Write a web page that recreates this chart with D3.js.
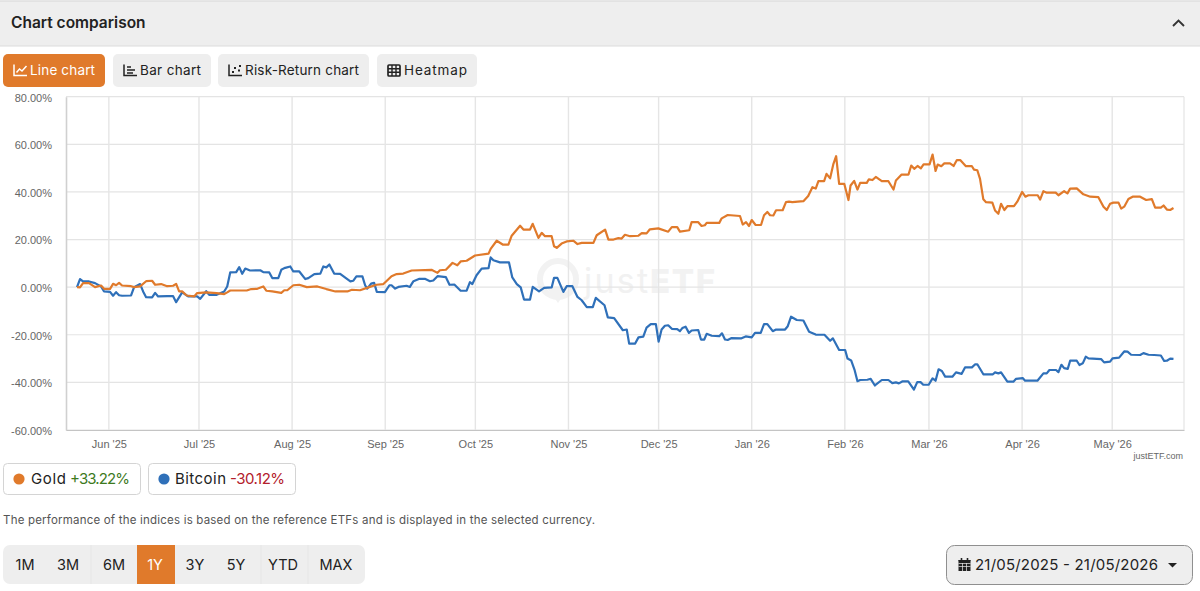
<!DOCTYPE html>
<html>
<head>
<meta charset="utf-8">
<script src="https://cdn.jsdelivr.net/npm/d3@7"></script>
<style>
html,body{margin:0;padding:0;background:#fff;overflow:hidden}
svg{display:block}
.ui{font-family:Inter,"Noto Sans",sans-serif}
.axis text{font-family:"Liberation Sans",Arial,sans-serif;font-size:11px;fill:#666}
</style>
</head>
<body>
<svg id="c" width="1200" height="591"></svg>
<script>
const startDate = Date.UTC(2025,4,21,9,36);
const monthTicks = ["2025-06-01","2025-07-01","2025-08-01","2025-09-01","2025-10-01","2025-11-01","2025-12-01","2026-01-01","2026-02-01","2026-03-01","2026-04-01","2026-05-01"];
const valueTicks = [-60,-40,-20,0,20,40,60,80];

const goldDays = [0,1,2,4,6,8,9,11,12,13,14,15,18,19,21,23,25,26,28,30,32,33,34,35,36.5,39,40,43,46.5,49,50,51,56.5,58,60,62,63,65,68,69,70,72,74,76.5,80,83,86,90,91.5,94.2,97,99.7,102,104.7,106.4,108.6,111.4,118,120,120.8,122.8,125,126.6,127.7,129.7,132.5,137,137.7,139.7,141.7,143.6,144.7,147.5,148.6,150.8,151.7,153.6,154.7,155.8,158,158.8,159.7,161.3,163,165.2,166.6,168,171.9,173,175.8,176.9,178.6,180.2,181.3,182.4,184.1,186.9,188,189.6,190.7,193.5,196.8,198,199.8,200.7,203.8,204.6,206.8,207.9,209,209.6,213.8,214.6,216.6,220.7,221.6,222.7,223.7,224.6,225.9,227.7,228.7,229.8,230.7,231.8,232.7,234.9,236,237,238.1,241.8,243.4,244.8,245.9,246.8,248.7,249.5,250.7,251.8,252.7,253.7,255.4,256.8,257.5,258.7,259.8,260.7,262.9,263.6,264.8,265.9,267.9,270.1,271.8,272.6,274.5,276.8,277.7,278.7,279.8,280.9,281.8,283.8,284.8,285.8,286.5,287.7,288.7,290.6,291.8,292.9,294,295.9,297.9,298.6,299.7,300.6,301.7,302.6,304.7,305.6,306.7,307.6,308.7,309.7,311.9,313,314.6,315.7,316.7,319.8,320.6,321.7,322.8,325.8,326.7,328.6,329.7,330.6,332.8,335,337.3,340,341.7,342.8,343.9,345,346.7,347.6,348.6,350,351.4,353.9,355.9,357.8,358.9,360.8,361.7,362.8,363.9,365];
const goldValues = [0,-0.1,1.7,1.7,0,0.7,-0.7,-0.7,1.4,0.8,1.8,0.7,0.4,0,0.3,2.5,2.7,1,1.3,0.4,0.6,1.4,-1.8,-1.8,-3.5,-3.9,-2.5,-2.2,-2.5,-2.9,-2.2,-1.4,-1.4,-0.8,-0.7,0.3,-1.5,-1.8,-2.4,-1.3,-1.3,0.8,1,0,0.3,-0.8,-1.8,-1.8,-1.1,-1.3,-0.1,1,1.3,4.6,5.5,5.7,7,7.3,6,7.1,7.3,10.2,9.2,10.8,11.1,13.3,14.1,16.1,19.5,17.9,17.9,21.6,25.8,24.2,24.2,26.6,20.7,22.8,21.4,21.4,17.2,16.5,18.3,19.2,19.5,18.1,18.6,18.6,21.8,24.2,20,20,20.6,20.4,22,21.4,21.6,22.7,22.6,24.3,24.7,23.3,25.2,25.2,23.3,23.9,27.3,27.3,25.7,26,27,27,28.9,30.3,29.9,26.3,27.3,25.7,28.2,26.1,26.1,30.2,31.6,30.2,30.1,32.3,32.3,35.7,35.9,35.7,36.1,38.3,42,41.4,44.5,44.5,47.6,45.7,51.8,55,43.4,43.4,36.6,42.7,44.6,41,43.8,43.8,45.3,45,46.3,44.5,44.5,41,44.8,47.3,47.3,51.1,49.7,50.9,49.9,51.6,51.6,55.7,48.8,51.5,50.8,52,52,50.9,53.4,53.4,50.8,50.8,49.4,49.1,45.5,36.9,35.7,35.5,32.2,30.8,35,32.4,34,34,35.9,40,38,38.6,38.6,36.8,40.3,39.7,39.7,38.6,40.3,39.4,41.4,41.5,39,38,37.8,33.8,32.4,35,35.5,35.5,33,33.8,37,38,38,36.6,37,33.4,33.4,34.3,32.6,32.4,33.22];

const bitcoinDays = [0,1,2,4,6,8,9,11,12,13,14,15,18,19,21,22,23,25,26,27,30,32,33,35,37,40,41,43,44,46.5,49,50,51,53,54,55,56,57.6,61,62,64,65,67,68,69,71,72,74,76,77,79,81,82,83,84,85.6,87.6,91,92,93,95,95.9,96.6,97.9,98.9,99.8,102.5,104,104.7,105.9,107,109.7,110.8,112,114,115.8,117.5,118.6,120,122.8,124,125.6,127.7,129.7,130.8,131.6,133,134.7,137,137.7,138.6,140.8,143.8,144.9,146.4,147.7,148.8,150.8,151.7,153.8,155.5,158,158.8,159.9,161.9,163,164.9,166.6,168,169.7,171.7,172.7,175.6,176.7,178.8,181.7,183,183.8,185.8,186.9,188.5,189.6,191,192.7,193.6,194.6,195.7,196.8,198,199.8,200.7,201.5,202.6,203.7,204.6,206.8,207.7,208.8,209.6,211.3,213.8,214.7,215.7,216.6,217.9,221.2,222.6,224.6,225.7,227.6,228.7,229.8,231.6,232.7,235.7,236.6,237.7,239.6,241.8,243.7,245.9,248.8,250.7,251.6,253.7,255.7,256.5,257.7,258.8,259.8,260.7,263.1,264.2,265.6,267.9,270.1,271.4,272.6,273.6,274.7,276.7,278.6,279.7,280.8,281.7,283.5,284.8,285.8,286.8,287.9,289,291.4,292.6,294.5,295.6,297.9,299,299.7,301.7,304.9,305.6,306.7,307.6,309.7,311.7,312.6,314.8,315.6,319.7,321.7,322.8,323.7,325.9,326.7,327.7,328.6,329.8,330.6,332.8,333.7,334.8,335.8,336.7,340.9,341.9,343.9,344.7,346.9,348.6,349.7,350.9,353.9,355,356.7,358.6,360.8,361.9,362.8,363.9,365];
const bitcoinValues = [0,3.4,2.4,2.4,1.7,0.3,-1.8,-2,-3.6,-2.1,-3.4,-3.6,-3.5,0,1.3,-1.8,-4.2,-4.3,-2.4,-3.9,-3.8,-3.8,-6.3,-2.2,-3.9,-3.9,-4.9,-1.7,-3.2,-3.2,-1.8,0.3,6.2,6.3,8.4,5.6,7.8,7,7.1,6.3,6.2,3.8,3.8,7.3,8,8.7,6.6,6.6,3.4,3.8,5.5,5.7,8.7,8.3,9.5,5.7,5.6,2.4,2.7,4.5,4.5,0.8,-0.6,1.5,1.8,-2,-2.1,0.8,0.8,-0.6,0.1,0.6,0.1,2.5,3.5,3.5,2.5,2.8,4.6,4.2,1,1.1,-1.5,-1.5,2.1,1.3,5,7.8,8,12.5,11.3,10.4,10.4,4.1,1.3,-0.1,-5.2,-5.2,0.1,-1.8,-0.3,-0.1,3.9,3.9,-2,0.4,0.4,-4.1,-5.5,-8.4,-8.4,-4.5,-7.6,-12.7,-13,-18.1,-17.8,-23.7,-23.7,-21.1,-20.8,-17,-15.5,-15.5,-22.9,-17.8,-16.2,-16,-17.5,-17.6,-18.5,-17.2,-16.6,-19.2,-18.2,-18,-22,-22,-19.6,-20.4,-20.6,-19.4,-22,-22.2,-21.4,-21.5,-20.7,-21.1,-19.2,-19.2,-15.5,-15.5,-18.5,-17.8,-17.8,-16.4,-12.4,-13.8,-14,-18.7,-19.9,-20,-22.5,-21.5,-26.4,-26.4,-30,-30.8,-34.6,-39.5,-39,-38.9,-38.5,-41.3,-39,-39,-40.3,-40,-40.4,-39.6,-39.6,-43,-39.9,-39.9,-41,-41,-38.3,-39.3,-34.5,-35.2,-37.6,-37.6,-35.8,-36.4,-33.7,-33.7,-32.4,-32.4,-36.6,-36.6,-35.8,-36.2,-35.8,-39.7,-39.7,-38.5,-38.2,-39.3,-39.3,-36.2,-36.2,-34.8,-34.8,-35.7,-32.6,-34,-34.3,-30.9,-30.9,-32.7,-32,-29.2,-29.9,-30.2,-31.6,-31.3,-29.9,-29.6,-27,-27.1,-28.4,-28.5,-27.7,-28.4,-28.5,-28.7,-31,-30.9,-30,-30.12];

const navItems = ["Line chart","Bar chart","Risk-Return chart","Heatmap"];
const rangeItems = ["1M","3M","6M","1Y","3Y","5Y","YTD","MAX"];

const ORANGE="#e07a2b", BLUE="#2f70b9";
const svg=d3.select("#c");
const ui=svg.append("g").attr("class","ui");

// page header
svg.insert("rect",":first-child").attr("width",1200).attr("height",591).attr("fill","#fff");
ui.append("rect").attr("x",0).attr("y",1).attr("width",1200).attr("height",45).attr("fill","#eeeeee");
ui.append("line").attr("x1",0).attr("x2",1200).attr("y1",46).attr("y2",46).attr("stroke","#dcdcdc").attr("stroke-width",1.2);
ui.append("line").attr("x1",0).attr("x2",1200).attr("y1",1).attr("y2",1).attr("stroke","#dedede").attr("stroke-width",1.4);
ui.append("text").attr("x",11).attr("y",28).attr("font-size",15.5).attr("font-weight",600).attr("fill","#222").text("Chart comparison");
ui.append("path").attr("d","M1173 26 l5.5 -5.5 l5.5 5.5").attr("fill","none").attr("stroke","#333").attr("stroke-width",1.9);

// tab buttons
const navBoxes=[[3,102],[113,98],[218,151],[377,100]];
const navText=[30,140,245,404];
const navLen=[65,61,114,63];
navItems.forEach((t,i)=>{
  const on=i===0,[x,w]=navBoxes[i];
  ui.append("rect").attr("x",x).attr("y",54).attr("width",w).attr("height",33).attr("rx",5)
    .attr("fill",on?ORANGE:"#eeeeee");
  ui.append("text").attr("x",navText[i]).attr("y",75).attr("font-size",13.5).attr("font-weight",400)
    .attr("textLength",navLen[i]).attr("fill",on?"#fff":"#222").text(t);
});
function axisIcon(x,col){
  ui.append("path").attr("d",`M${x} 64.5 v11 h13`).attr("fill","none").attr("stroke",col).attr("stroke-width",1.5);
}
axisIcon(14,"#fff");
ui.append("path").attr("d","M16.5 72.5 l3 -3.5 l2.5 2 l4.5 -5").attr("fill","none").attr("stroke","#fff").attr("stroke-width",1.5);
axisIcon(124,"#222");
ui.append("path").attr("d","M127 67h4M127 70h8M127 73h6").attr("fill","none").attr("stroke","#222").attr("stroke-width",1.6);
axisIcon(229,"#222");
ui.append("path").attr("d","M232 72h2M234 68h2M238 70.5h2M239 66h2").attr("fill","none").attr("stroke","#222").attr("stroke-width",2);
ui.append("rect").attr("x",388).attr("y",65).attr("width",12).attr("height",11).attr("rx",1).attr("fill","none").attr("stroke","#222").attr("stroke-width",1.7);
ui.append("path").attr("d","M388 68.7h12M388 72.3h12M392 65v11M396 65v11").attr("fill","none").attr("stroke","#222").attr("stroke-width",1.4);

// chart
const x=d3.scaleUtc().domain([new Date(Date.UTC(2025,4,17,17,36)),new Date(Date.UTC(2026,4,24,21,36))]).range([66,1184]);
const y=d3.scaleLinear().domain([-60,80]).range([430,96.7]);
const g=svg.append("g");
const tickDates=monthTicks.map(s=>new Date(s+"T00:00:00Z"));

// watermark
const wm=g.append("g").attr("opacity",0.9);
wm.append("circle").attr("cx",558).attr("cy",279).attr("r",18).attr("fill","none").attr("stroke","#f1f1f1").attr("stroke-width",6);
wm.append("path").attr("d","M547 288 L558 303 L568 288 Z").attr("fill","#f1f1f1");
wm.append("text").attr("x",584).attr("y",293).attr("font-family","Inter,sans-serif").attr("font-size",34).attr("font-weight",400).attr("textLength",64).attr("fill","#f0f0f0").text("just");
wm.append("text").attr("x",650).attr("y",293).attr("font-family","Inter,sans-serif").attr("font-size",33).attr("font-weight",800).attr("textLength",65).attr("fill","#f1f1f1").text("ETF");

// grid
g.append("g").selectAll("line").data(valueTicks).join("line")
  .attr("x1",66).attr("x2",1184).attr("y1",d=>y(d)).attr("y2",d=>y(d)).attr("stroke","#e4e4e4").attr("stroke-width",1.2);
g.append("g").selectAll("line").data(tickDates).join("line")
  .attr("x1",d=>x(d)).attr("x2",d=>x(d)).attr("y1",96.7).attr("y2",430).attr("stroke","#e5e5e5").attr("stroke-width",1.4);
g.append("line").attr("x1",1184).attr("x2",1184).attr("y1",96.7).attr("y2",430).attr("stroke","#e5e5e5").attr("stroke-width",1.2);

const yAxis=g.append("g").attr("class","axis").attr("transform","translate(66,0)")
  .call(d3.axisLeft(y).tickValues(valueTicks).tickSize(0).tickPadding(14).tickFormat(d=>d.toFixed(2)+"%"));
yAxis.select(".domain").attr("stroke","#d0d0d0").attr("stroke-width",1.6);
yAxis.selectAll("text").attr("dy","0.4em");
const fmt=d3.utcFormat("%b '%y");
const xAxis=g.append("g").attr("class","axis").attr("transform","translate(0,430)")
  .call(d3.axisBottom(x).tickValues(tickDates).tickSize(0).tickPadding(10).tickFormat(fmt));
xAxis.select(".domain").attr("stroke","#c4c4c4").attr("stroke-width",1.2);

const toDate=d=>new Date(startDate+d*864e5);
const line=d3.line().x(d=>x(toDate(d[0]))).y(d=>y(d[1]));
g.append("path").attr("d",line(d3.zip(bitcoinDays,bitcoinValues))).attr("fill","none").attr("stroke",BLUE).attr("stroke-width",2.2).attr("stroke-linejoin","round");
g.append("path").attr("d",line(d3.zip(goldDays,goldValues))).attr("fill","none").attr("stroke",ORANGE).attr("stroke-width",2.2).attr("stroke-linejoin","round");
g.append("text").attr("x",1183).attr("y",459).attr("text-anchor","end").attr("font-family","'Liberation Sans',Arial,sans-serif").attr("font-size",9).attr("fill","#666").text("justETF.com");

// legend
const legendItems=[{n:"Gold",v:"+33.22%",c:ORANGE,vc:"#3e7a1e",x:3,w:137,tx:31,vx:70,nl:35,vl:60},
                   {n:"Bitcoin",v:"-30.12%",c:BLUE,vc:"#b3202c",x:148,w:147,tx:175,vx:230,nl:51,vl:55}];
legendItems.forEach(d=>{
  ui.append("rect").attr("x",d.x+.5).attr("y",463.5).attr("width",d.w).attr("height",31).attr("rx",4).attr("fill","#fff").attr("stroke","#d4d4d4");
  ui.append("circle").attr("cx",d.x+16).attr("cy",479).attr("r",5.6).attr("fill",d.c);
  ui.append("text").attr("x",d.tx).attr("y",484).attr("font-size",15).attr("textLength",d.nl).attr("fill","#222").text(d.n);
  ui.append("text").attr("x",d.vx).attr("y",484).attr("font-size",15).attr("textLength",d.vl).attr("fill",d.vc).text(d.v);
});
ui.append("text").attr("x",3).attr("y",524).attr("font-size",11.5).attr("textLength",592).attr("fill","#555").text("The performance of the indices is based on the reference ETFs and is displayed in the selected currency.");

// range buttons
ui.append("rect").attr("x",3).attr("y",545).attr("width",362).attr("height",39).attr("rx",7).attr("fill","#eeeeee");
const rangeCenters=[25,68,114,155,195,236,283,336];
const rangeSep=[91,261,308];
rangeSep.forEach(s=>ui.append("line").attr("x1",s).attr("x2",s).attr("y1",545).attr("y2",584).attr("stroke","#e6e6e6"));
ui.append("rect").attr("x",137).attr("y",545).attr("width",38).attr("height",39).attr("fill",ORANGE);
rangeItems.forEach((t,i)=>{
  ui.append("text").attr("x",rangeCenters[i]).attr("y",570).attr("text-anchor","middle").attr("font-size",14.5)
    .attr("fill",t==="1Y"?"#fff":"#222").text(t);
});

// date picker
ui.append("rect").attr("x",946.5).attr("y",545.5).attr("width",246).attr("height",39).attr("rx",8).attr("fill","#eeeeee").attr("stroke","#8f8f8f");
ui.append("rect").attr("x",958.5).attr("y",560).attr("width",12).attr("height",11).attr("fill","#222");
ui.append("rect").attr("x",958.5).attr("y",560).attr("width",12).attr("height",1.2).attr("fill","#222");
ui.append("path").attr("d","M961.5 558v3M967.5 558v3").attr("stroke","#222").attr("stroke-width",1.6);
ui.append("path").attr("d","M958.5 563.5h12M958.5 566.5h12M962.5 563v8M966.5 563v8").attr("stroke","#eee").attr("stroke-width",.7);
ui.append("text").attr("x",975).attr("y",570).attr("font-size",15).attr("textLength",183).attr("fill","#222").text("21/05/2025 - 21/05/2026");
ui.append("path").attr("d","M1168 563 h9 l-4.5 4.5 z").attr("fill","#222");
</script>
</body>
</html>
